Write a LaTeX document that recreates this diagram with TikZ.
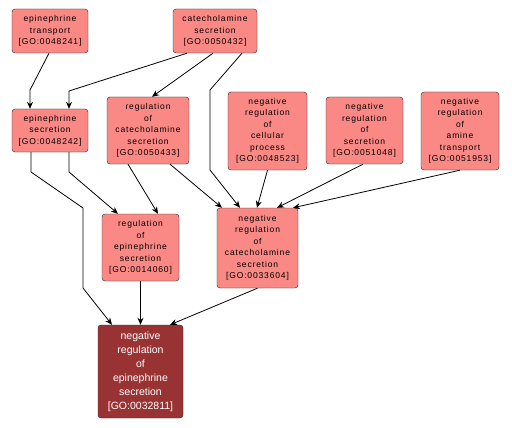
\documentclass[tikz,border=0pt]{standalone}
\usepackage{fontspec}
\setmainfont{Liberation Sans}
\usetikzlibrary{arrows.meta}
\definecolor{termfill}{RGB}{250,137,133}
\definecolor{hitfill}{RGB}{153,51,51}

\begin{document}
\begin{tikzpicture}[x=1pt,y=-1pt,
    term/.style={draw=black!85,fill=termfill,rounded corners=3pt,align=center,inner sep=0pt,
        font=\fontsize{8.5}{11.5}\selectfont\addfontfeature{LetterSpace=10}},
    hit/.style={term,fill=hitfill,text=white,font=\fontsize{10.5}{14}\selectfont},
    edge/.style={-{Stealth[length=7pt,width=6pt]},line width=0.8pt}]
            \useasboundingbox[fill=white] (0,0) rectangle (512,428);
            % top row
            \node[term,minimum width=76pt,minimum height=44pt] (ept) at (50,31) {epinephrine\\transport\\{[GO:0048241]}};
            \node[term,minimum width=84pt,minimum height=44pt] (cs) at (215,31) {catecholamine\\secretion\\{[GO:0050432]}};
            % second row
            \node[term,minimum width=76pt,minimum height=43pt] (eps) at (50,130.5) {epinephrine\\secretion\\{[GO:0048242]}};
            \node[term,minimum width=82pt,minimum height=67pt] (rcs) at (148,130.5) {regulation\\of\\catecholamine\\secretion\\{[GO:0050433]}};
            \node[term,minimum width=79pt,minimum height=78pt] (nrcp) at (267.5,131) {negative\\regulation\\of\\cellular\\process\\{[GO:0048523]}};
            \node[term,minimum width=77pt,minimum height=67pt] (nrs) at (364.5,130.5) {negative\\regulation\\of\\secretion\\{[GO:0051048]}};
            \node[term,minimum width=78pt,minimum height=78pt] (nrat) at (460,131) {negative\\regulation\\of\\amine\\transport\\{[GO:0051953]}};
            % third row
            \node[term,minimum width=77pt,minimum height=67pt] (reps) at (140.5,247.5) {regulation\\of\\epinephrine\\secretion\\{[GO:0014060]}};
            \node[term,minimum width=81pt,minimum height=80pt] (nrcs) at (257.5,248) {negative\\regulation\\of\\catecholamine\\secretion\\{[GO:0033604]}};
            % the term itself
            \node[hit,minimum width=85pt,minimum height=93pt] (nres) at (140.5,371.5) {negative\\regulation\\of\\epinephrine\\secretion\\{[GO:0032811]}};

            % bends
            \coordinate (b1) at (30,90);
            \coordinate (b2) at (69,91);
            \coordinate (b3) at (210,90);
            \coordinate (b4) at (210,170);
            \coordinate (b5) at (31,172);
            \coordinate (b6) at (83,208);
            \coordinate (b7) at (83,288);
            \coordinate (b8) at (69,172);

            \draw[edge] ([xshift=-1pt]ept.south) -- (b1) -- ([xshift=-20pt]eps.north);
            \draw[edge] ([xshift=-28pt]cs.south) -- (b2) -- ([xshift=19pt]eps.north);
            \draw[edge] ([xshift=-2pt]cs.south) -- ([xshift=4pt]rcs.north);
            \draw[edge] ([xshift=27pt]cs.south) -- (b3) -- (b4) -- ([xshift=-17.5pt]nrcs.north);
            \draw[edge] ([xshift=-19pt]eps.south) -- (b5) -- (b6) -- (b7) -- ([xshift=-28.5pt]nres.north);
            \draw[edge] ([xshift=19pt]eps.south) -- (b8) -- ([xshift=-22.5pt]reps.north);
            \draw[edge] ([xshift=-20pt]rcs.south) -- ([xshift=17.5pt]reps.north);
            \draw[edge] ([xshift=22pt]rcs.south) -- ([xshift=-35.5pt]nrcs.north);
            \draw[edge] (nrcp.south) -- ([xshift=-0.5pt]nrcs.north);
            \draw[edge] ([xshift=-1.5pt]nrs.south) -- ([xshift=19.5pt]nrcs.north);
            \draw[edge] (nrat.south) -- ([xshift=35.5pt]nrcs.north);
            \draw[edge] (reps.south) -- (nres.north);
            \draw[edge] (nrcs.south) -- ([xshift=29.5pt]nres.north);
        \end{tikzpicture}
\end{document}
